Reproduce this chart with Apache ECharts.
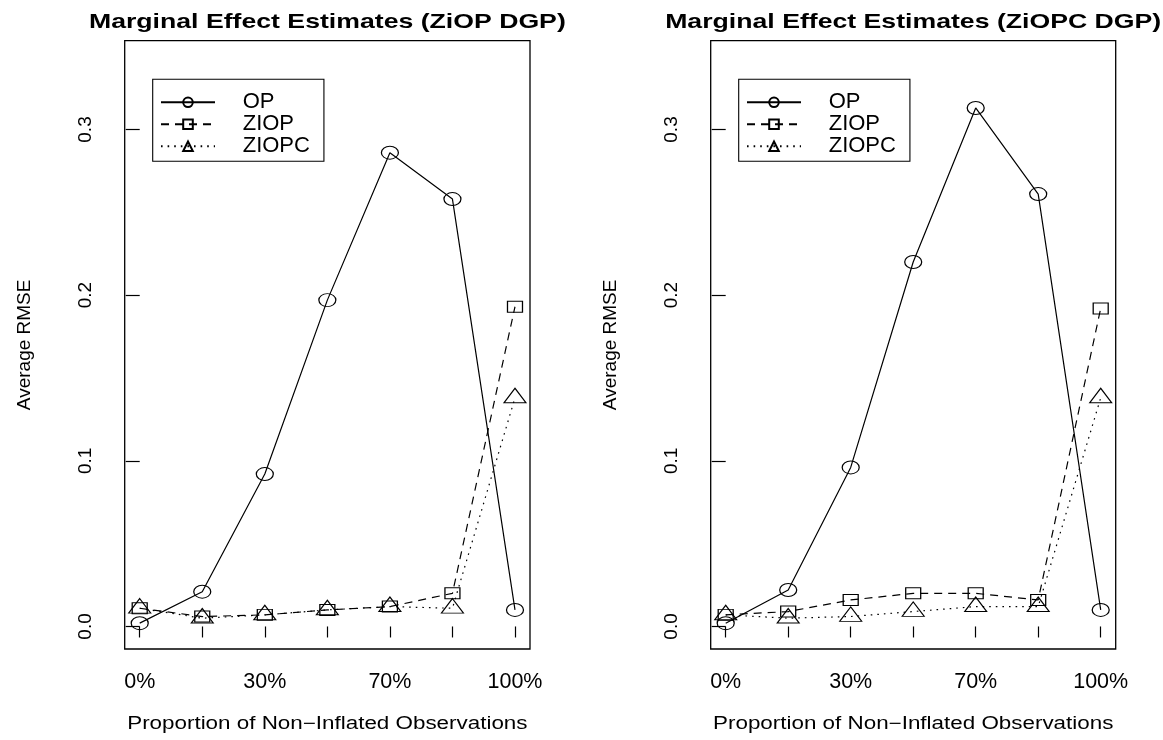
<!DOCTYPE html>
<html>
<head>
<meta charset="utf-8">
<script src="https://cdn.jsdelivr.net/npm/echarts@6/dist/echarts.min.js"></script>
<style>
html,body{margin:0;padding:0;background:#fff;}
#chart{width:1163px;height:740px;}
</style>
</head>
<body>
<div id="chart"></div>
<script>
// ---- data ----
const categories = ['0%', '15%', '30%', '50%', '70%', '85%', '100%'];
const labelIndices = [0, 2, 4, 6];
const yTicks = [0, 0.1, 0.2, 0.3];
const seriesNames = ['OP', 'ZIOP', 'ZIOPC'];

const leftOP    = [0.002, 0.021, 0.092, 0.197, 0.286, 0.258, 0.010];
const leftZIOP  = [0.011, 0.006, 0.007, 0.010, 0.012, 0.020, 0.193];
const leftZIOPC = [0.011, 0.005, 0.007, 0.010, 0.012, 0.011, 0.138];

const rightOP    = [0.002, 0.022, 0.096, 0.220, 0.313, 0.261, 0.010];
const rightZIOP  = [0.007, 0.009, 0.016, 0.020, 0.020, 0.016, 0.192];
const rightZIOPC = [0.007, 0.005, 0.006, 0.009, 0.012, 0.012, 0.138];

const titles = ['Marginal Effect Estimates (ZiOP DGP)', 'Marginal Effect Estimates (ZiOPC DGP)'];
const xTitle = 'Proportion of Non\u2212Inflated Observations';
const yTitle = 'Average RMSE';

// ---- styling ----
const FONT = 'Liberation Sans, Arial, Helvetica, sans-serif';
const grids = [
  {left: 124.7, top: 40.7, width: 405.3, height: 608.3},
  {left: 710.7, top: 40.7, width: 405, height: 608.3}
];
const ELLIPSE = 'path://M0,50 A50,50 0 1,1 100,50 A50,50 0 1,1 0,50 Z';
const styles = {
  OP:    {symbol: ELLIPSE, size: [17, 13], offset: [0, 0], dash: 'solid'},
  ZIOP:  {symbol: 'rect', size: [15, 11], offset: [0, 0], dash: [8, 6]},
  ZIOPC: {symbol: 'triangle', size: [22, 14.5], offset: [0, -2.4], dash: [1.6, 5]}
};

function toPairs(arr) { return arr.map((v, i) => [i, v]); }

function mkSeries(name, arr, idx) {
  const s = styles[name];
  return {
    type: 'line', name: name, xAxisIndex: idx, yAxisIndex: idx,
    data: toPairs(arr),
    symbol: s.symbol, symbolSize: s.size, symbolOffset: s.offset,
    showAllSymbol: true,
    lineStyle: {color: '#000', width: 1.2, type: s.dash},
    itemStyle: {color: 'rgba(0,0,0,0)', borderColor: '#000', borderWidth: 1.1},
    emphasis: {disabled: true},
    silent: true
  };
}

const xAxes = grids.map((g, i) => ({
  type: 'value', gridIndex: i, min: -0.24, max: 6.24,
  axisLine: {show: false},
  splitLine: {show: false},
  axisTick: {show: true, inside: false, length: 11, customValues: categories.map((c, k) => k),
             lineStyle: {color: '#000', width: 1.2}},
  axisLabel: {show: true, margin: 22, customValues: labelIndices, color: '#000',
              fontFamily: FONT, fontSize: 21.5,
              formatter: v => categories[Math.round(v)]}
}));

const yAxes = grids.map((g, i) => ({
  type: 'value', gridIndex: i, min: -0.0136, max: 0.3536,
  axisLine: {show: false},
  splitLine: {show: false},
  axisTick: {show: true, inside: false, length: 14, customValues: yTicks,
             lineStyle: {color: '#000', width: 1.2}},
  axisLabel: {show: true, margin: 29, rotate: 90, customValues: yTicks, color: '#000',
              fontFamily: FONT, fontSize: 19, formatter: v => v.toFixed(1)},
  name: yTitle, nameLocation: 'middle', nameGap: 90, nameRotate: 90,
  nameTextStyle: {fontFamily: FONT, fontSize: 19, color: '#000'}
}));

const legends = grids.map((g, i) => ({
  left: g.left + 28, top: 79.3, orient: 'vertical',
  data: seriesNames, selectedMode: false,
  itemWidth: 54, itemHeight: 12, itemGap: 0,
  borderColor: '#000', borderWidth: 1.1, borderRadius: 0,
  padding: [12, 14, 4, 7.3],
  textStyle: {fontFamily: FONT, fontSize: 22, color: '#000', lineHeight: 21.5, padding: [0, 0, 0, 22.7]}
}));

const graphics = [];
grids.forEach((g, i) => {
  const cx = g.left + g.width / 2;
  graphics.push({
    type: 'text', x: cx, y: 22, scaleX: 1.3,
    style: {text: titles[i], x: 0, y: 0, align: 'center', verticalAlign: 'middle',
            fontFamily: FONT, fontSize: 20.5, fontWeight: 'bold', fill: '#000'}
  });
  graphics.push({
    type: 'text', x: cx, y: 724, scaleX: 1.28,
    style: {text: xTitle, x: 0, y: 0, align: 'center', verticalAlign: 'middle',
            fontFamily: FONT, fontSize: 17.5, fill: '#000'}
  });
});

const option = {
  animation: false,
  backgroundColor: '#fff',
  grid: grids.map(g => Object.assign({show: true, borderColor: '#000', borderWidth: 1.3,
                                       backgroundColor: 'transparent', containLabel: false}, g)),
  xAxis: xAxes,
  yAxis: yAxes,
  legend: legends,
  graphic: graphics,
  series: [
    mkSeries('OP', leftOP, 0), mkSeries('ZIOP', leftZIOP, 0), mkSeries('ZIOPC', leftZIOPC, 0),
    mkSeries('OP', rightOP, 1), mkSeries('ZIOP', rightZIOP, 1), mkSeries('ZIOPC', rightZIOPC, 1)
  ]
};

const chart = echarts.init(document.getElementById('chart'), null, {renderer: 'canvas'});
chart.setOption(option);
</script>
</body>
</html>
